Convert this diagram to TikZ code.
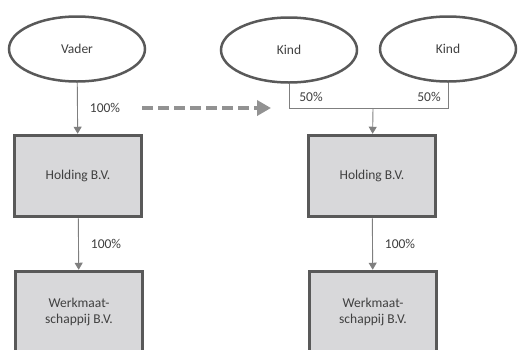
\documentclass[tikz,border=0pt]{standalone}
\usepackage{fontspec}
\setmainfont{Carlito}
\usetikzlibrary{shapes.geometric,arrows.meta}
\definecolor{rand}{HTML}{595959}
\definecolor{vulling}{HTML}{D8D8DA}
\definecolor{lijn}{HTML}{7F7F7F}
\definecolor{tekst}{HTML}{404040}
\begin{document}
\begin{tikzpicture}[x=1pt,y=-1pt,>={Triangle[length=7pt,width=8pt]},font=\fontsize{13.5}{16.5}\selectfont,text=tekst]
        \tikzstyle{owner}=[ellipse,line width=2.5pt,draw=rand,fill=white,minimum width=136pt,minimum height=65pt,inner sep=0pt]
        \tikzstyle{company}=[rectangle,line width=3.5pt,draw=rand,fill=vulling,minimum width=127pt,minimum height=81pt,inner sep=0pt,align=center]
        \tikzstyle{edge}=[draw=lijn,line width=0.9pt]
        \tikzstyle{share}=[inner sep=0pt]
        \useasboundingbox (0,0) rectangle (518,349);
       \begin{scope}
         % voor: vader houdt alles
         \node [owner] (vader) at (77,49) {Vader};
         \node [company] (h1) at (78,176) {Holding B.V.};
         \node [company] (w1) at (79,312) {Werkmaat-\\schappij B.V.};
         \path[edge,->] (vader) -- node[share,right=12pt] {100\%} (h1);
         \path[edge,->] (h1) -- node[share,right=12pt] {100\%} (w1);
        \end{scope}
       \begin{scope}
         % na: twee kinderen
         \node [owner] (k1) at (289,50) {Kind};
         \node [owner] (k2) at (448,49) {Kind};
         \node [company] (h2) at (372,176) {Holding B.V.};
         \node [company] (w2) at (373,312) {Werkmaat-\\schappij B.V.};
         \coordinate (j) at (373,108);
         \path[edge] (k1) |- (j);
         \path[edge] (k2) |- (j);
         \path[edge,->] (j) -- (h2);
         \node [share] (p1) at (311,97) {50\%};
         \node [share] (p2) at (429,97) {50\%};
         \path[edge,->] (h2) -- node[share,right=12pt] {100\%} (w2);
        \end{scope}
        % overgang
        \coordinate (van) at (142,108);
        \coordinate (naar) at (271,108);
        \draw[draw=lijn!85,line width=4pt,dash pattern=on 11pt off 5pt,-{Triangle[length=14pt,width=15pt]}] (van) -- (naar);
      \end{tikzpicture}
\end{document}
